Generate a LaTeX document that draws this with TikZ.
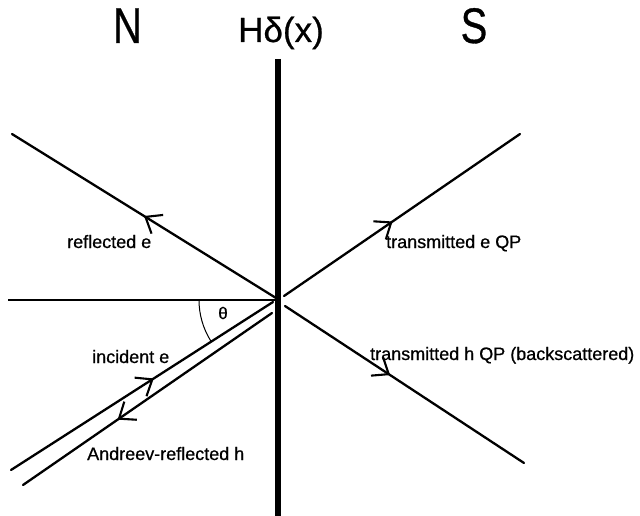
\documentclass[tikz,border=0pt]{standalone}
\usepackage{fontspec}
\setmainfont{Liberation Sans}
\newfontfamily\heavyfont{Liberation Sans}[FakeBold=0.7]
\usetikzlibrary{arrows.meta,decorations.markings}
\tikzset{
  lbl/.style={font=\heavyfont\fontsize{18}{20}\selectfont, inner sep=0pt, anchor=base west},
  bigletter/.style={font=\heavyfont\fontsize{50}{56}\selectfont, inner sep=0pt, anchor=base, xscale=0.8},
  ray/.style={line width=2.3pt, line cap=round},
  barb/.style={postaction={decorate}, decoration={markings,
     mark=at position #1 with {\arrow[line width=2.1pt]{Straight Barb[length=14pt,width=22pt]}}}}
}
\begin{document}
\begin{tikzpicture}[x=1pt,y=-1pt]
\useasboundingbox (0,0) rectangle (640,516);
% headings
\node[bigletter] (N) at (127.5,43) {N};
\node[bigletter] (S) at (474,43) {S};
\node[font=\heavyfont\fontsize{35}{40}\selectfont, inner sep=0pt, anchor=base] (H) at (281,42) {Hδ(x)};
% coordinates
\coordinate (O) at (276,300);
\coordinate (hl) at (8,300);
\coordinate (Rs) at (276,298);
\coordinate (Re) at (12,134);
\coordinate (Is) at (11,470);
\coordinate (Ie) at (273,302);
\coordinate (As) at (272,313);
\coordinate (Ae) at (23,485);
\coordinate (Es) at (284,296);
\coordinate (Ee) at (520,134);
\coordinate (Hs) at (285,306);
\coordinate (He) at (524,463);
\coordinate (Vt) at (277.5,59);
\coordinate (Vb) at (277.5,516);
% horizontal reference
\draw[line width=1.3pt] (hl) -- (O);
% rays
\draw[ray, barb=0.5] (Rs) -- (Re);
\draw[ray, barb=0.545] (Is) -- (Ie);
\draw[ray, barb=0.62] (As) -- (Ae);
\draw[ray, barb=0.46] (Es) -- (Ee);
\draw[ray, barb=0.44] (Hs) -- (He);
% angle
\draw[line width=1pt] ([shift={(180:77)}]O) arc[start angle=180, end angle=148, radius=77];
\node[font=\heavyfont\fontsize{17}{20}\selectfont, inner sep=0pt] (th) at (223,313) {θ};
% interface
\draw[line width=6pt] (Vt) -- (Vb);
% ray labels
\node[lbl] (lr) at (67,248) {reflected e};
\node[lbl] (li) at (92,363) {incident e};
\node[lbl] (la) at (87,460) {Andreev-reflected h};
\node[lbl] (le) at (386,248) {transmitted e QP};
\node[lbl] (lh) at (370,360) {transmitted h QP (backscattered)};
\end{tikzpicture}
\end{document}
